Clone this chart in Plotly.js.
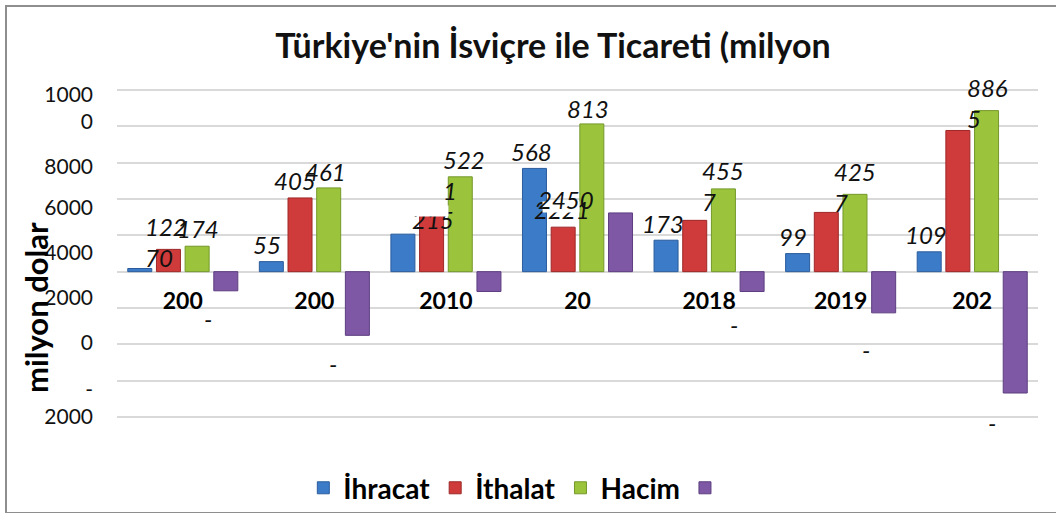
<!DOCTYPE html>
<html><head><meta charset="utf-8">
<script src="https://cdn.plot.ly/plotly-3.0.1.min.js"></script>
<style>
html,body{margin:0;padding:0;background:#fff;}
#chart{position:absolute;left:0;top:0;width:1056px;height:513px;}
#frame{position:absolute;left:5px;top:5px;width:1060px;height:505px;border:2px solid #8e8e8e;pointer-events:none;}
</style></head><body>
<div id="chart"></div><div id="frame"></div>
<script>
// ---- data ----
const categories = ["2000", "2005", "2010", "2015", "2018", "2019", "2020"];
const xTickLabels = ["200", "200", "2010", "20", "2018", "2019", "202"];
const ihracat = [174, 553, 2065, 5683, 1732, 995, 1093];
const ithalat = [1227, 4058, 3156, 2450, 2825, 3262, 7772];
const hacim   = [1401, 4611, 5221, 8133, 4557, 4257, 8865];
const denge   = [-1053, -3505, -1091, 3233, -1093, -2267, -6679];
const seriesNames = ["İhracat", "İthalat", "Hacim", " "];
const yTickLabels = ["1000<br>0", "8000", "6000", "4000", "2000", "0", "-<br>2000"];
const yTitle = "milyon dolar";
const chartTitle = "Türkiye'nin İsviçre ile Ticareti (milyon";
// data labels as they appear (truncated) on the chart
const ihracatLabels = ["", "55", "", "568", "173", "99", "109"];
const ithalatLabels = ["122<br>70", "405", "215", "2450", "", "", ""];
const ithalatHiddenLabels = ["", "", "", "2221", "", "", ""];
const hacimLabels   = ["174", "461", "522<br>1", "813", "455<br>7", "425<br>7", "886<br>5"];
const dengeLabels   = ["-", "-", "", "", "-", "-", "-"];

// ---- style ----
const FONT = "Lato, 'Open Sans', sans-serif";
const BARGAP = 0.128, GROUPGAP = 0.163;
const fills = ["#3c7bc8", "#cf3a3a", "#9bc43c", "#7e58a5"];
const edges = ["#2b5c9c", "#9e2828", "#74982a", "#5d3e80"];
const Y_RANGE = [-8165, 10165];
const yTickPos = [9009, 5761, 3504, 1027, -1450, -3928, -7231];
// per label [dx, dy] pixel shift from bar end
const labelShift = [
  [[0,0],[-4,-17],[0,0],[-3,-17],[-3,-16.5],[-4.5,-17],[-3.5,-17]],
  [[-2.5,-7],[-5,-17],[1,5],[3,-28],[0,0],[0,0],[0,0]],
  [[1,-17.6],[-3,-16],[3.5,-2],[-4,-15],[0,-3],[0,-7.7],[1,-7.5]],
  [[-18,28],[-24,28],[0,0],[0,0],[-18,33],[-18,37],[-23,29]]
];
const hiddenShift = [-1, -17.5];

const values = [ihracat, ithalat, hacim, denge];
const labels = [ihracatLabels, ithalatLabels, hacimLabels, dengeLabels];

const traces = values.map((v, s) => ({
  type: "bar", name: seriesNames[s], x: categories, y: v,
  marker: {color: fills[s], line: {color: edges[s], width: 1}},
  hoverinfo: "skip"
}));
// carrier trace so the label axis (y2) is drawn
traces.push({type: "scatter", mode: "markers", x: categories, y: categories.map(() => null),
  yaxis: "y2", showlegend: false, hoverinfo: "skip"});

const slot = (1 - BARGAP) / 4;
const labelFont = {family: FONT, size: 24, color: "#111", style: "italic"};
const annotations = [];
const cover = (i, s, w, h, dx, dy) => ({x: i + (s - 1.5) * slot, y: values[s][i], xref: "x", yref: "y",
  text: "\u00a0", showarrow: false, width: w, height: h, bgcolor: "#ffffff", borderpad: 0,
  font: {size: 6}, xanchor: "center", yanchor: "middle", xshift: dx, yshift: -dy});
// partly hidden label, then a white cover over its upper part
ithalatHiddenLabels.forEach((t, i) => {
  if (!t) return;
  annotations.push({x: i + (1 - 1.5) * slot, y: ithalat[i], xref: "x", yref: "y", text: t, showarrow: false,
    xanchor: "center", yanchor: "middle", xshift: hiddenShift[0], yshift: -hiddenShift[1], font: labelFont});
  annotations.push(cover(i, 1, 36, 10, -2, -20.5));
});
labels.forEach((arr, s) => {
  arr.forEach((t, i) => {
    if (!t) return;
    const [dx, dy] = labelShift[s][i];
    annotations.push({x: i + (s - 1.5) * slot, y: values[s][i], xref: "x", yref: "y", text: t, showarrow: false,
      xanchor: "center", yanchor: "middle", align: "left", xshift: dx, yshift: -dy, font: labelFont});
  });
});
// white cover over the top of the 2010 import label
annotations.push(cover(2, 1, 35, 10, -1.5, -3.7));
// y axis title
annotations.push({xref: "paper", yref: "paper", x: -0.088, y: 0.339, text: yTitle, textangle: -90,
  showarrow: false, xanchor: "center", yanchor: "middle",
  font: {family: FONT, size: 31, weight: "bold", color: "#000"}});

const layout = {
  width: 1056, height: 513,
  margin: {l: 117, r: 18, t: 87, b: 93, autoexpand: false},
  paper_bgcolor: "#ffffff", plot_bgcolor: "#ffffff",
  barmode: "group", bargap: BARGAP, bargroupgap: GROUPGAP,
  font: {family: FONT, color: "#111"},
  title: {text: chartTitle, xref: "container", x: 553/1056, xanchor: "center",
          yref: "container", y: 1 - 46/513, yanchor: "middle",
          font: {family: FONT, size: 34, weight: "bold", color: "#111"}},
  xaxis: {type: "category", tickvals: categories, ticktext: xTickLabels, anchor: "free", position: 0.404,
          showgrid: false, showline: false, zeroline: false, ticks: "",
          tickfont: {family: FONT, size: 23, weight: "bold", color: "#000"}, fixedrange: true},
  yaxis: {range: Y_RANGE, tick0: 0, dtick: 2000, showgrid: true, gridcolor: "#d9d9d9", gridwidth: 2,
          showticklabels: false, ticks: "", zeroline: false, showline: false, fixedrange: true},
  yaxis2: {overlaying: "y", side: "left", range: Y_RANGE, tickmode: "array", tickvals: yTickPos, ticktext: yTickLabels,
           showgrid: false, zeroline: false, showline: false, ticks: "", ticklabelstandoff: 23,
           tickfont: {family: FONT, size: 21, color: "#111"}, fixedrange: true},
  legend: {orientation: "h", x: 0.2023, xanchor: "left", y: -0.1294, yanchor: "top", bgcolor: "rgba(0,0,0,0)",
           font: {family: FONT, size: 28, weight: "bold", color: "#000"}, traceorder: "normal"},
  annotations: annotations,
  showlegend: true
};
Plotly.newPlot("chart", traces, layout, {displayModeBar: false, staticPlot: true});
</script></body></html>
